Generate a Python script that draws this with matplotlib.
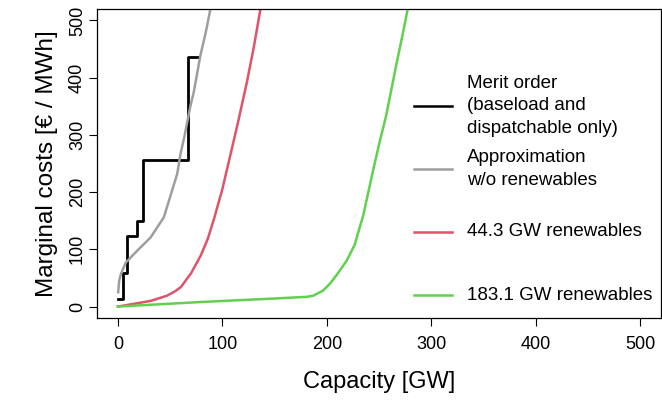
import matplotlib
matplotlib.use("Agg")
import matplotlib.pyplot as plt

plt.rcParams['font.family'] = ['Liberation Sans', 'DejaVu Sans']

# merit order (step function)
merit_cap = [0, 4.5, 8.6, 18.7, 23.7, 67.0, 76.5]
merit_cost = [14, 58, 124, 149, 256, 436, 436]

# approximation without renewables
approx_cap = [0.3, 1.2, 2.9, 7.6, 18.7, 31.4, 44, 56.8, 60, 64, 69.5, 72.7, 79, 84, 88.6]
approx_cost = [25, 45, 57, 77, 98, 121, 156, 232, 267, 300, 351, 375, 439, 478, 520]

# 44.3 GW renewables
red_cap = [0, 16, 31.7, 47, 55, 60.3, 70, 79.3, 86, 92, 100, 107.6, 115, 123.5, 130, 136.5]
red_cost = [0, 5, 10, 19, 27, 34, 58, 89, 118, 153, 205, 264, 322, 392, 452, 520]

# 183.1 GW renewables
green_cap = [0, 80, 155, 181, 187, 196.5, 203, 209, 219, 226.7, 235, 244, 250, 256.9, 266.4, 272, 277.5]
green_cost = [0, 8, 14.5, 17, 19, 28, 40, 54, 80, 108, 160, 235, 283, 334, 421, 470, 520]

labels = ["Merit order\n(baseload and\ndispatchable only)",
          "Approximation\nw/o renewables",
          "44.3 GW renewables",
          "183.1 GW renewables"]
colors = ["#000000", "#9E9E9E", "#DF536B", "#61D04F"]

W, H = 662, 405
fig = plt.figure(figsize=(W / 100, H / 100), dpi=100)
ax = fig.add_axes([97 / W, (H - 318) / H, (661 - 97) / W, (318 - 9) / H])

lw = 1.8
ax.plot(merit_cap, merit_cost, drawstyle='steps-post', color=colors[0], lw=2.0)
ax.plot(approx_cap, approx_cost, color=colors[1], lw=lw)
ax.plot(red_cap, red_cost, color=colors[2], lw=lw)
ax.plot(green_cap, green_cost, color=colors[3], lw=lw)

ax.set_xlim(-20, 520)
ax.set_ylim(-20, 520)
ax.set_xticks([0, 100, 200, 300, 400, 500])
ax.set_yticks([0, 100, 200, 300, 400, 500])
ax.tick_params(direction='out', length=6, width=0.8, labelsize=13)
ax.tick_params(axis='x', pad=7)
ax.tick_params(axis='y', pad=2)
for lab in ax.get_yticklabels():
    lab.set_rotation(90)
    lab.set_va('center')
for s in ax.spines.values():
    s.set_linewidth(0.9)
ax.set_xlabel("Capacity [GW]", fontsize=17, labelpad=13)
ax.set_ylabel("Marginal costs [€ / MWh]", fontsize=17.5, labelpad=8)

# legend, drawn by hand like R's legend()
ys = [106, 169, 232, 295]
for lab, c, y in zip(labels, colors, ys):
    fy = 1 - y / H
    fig.add_artist(plt.Line2D([414 / W, 452 / W], [fy, fy], color=c, lw=lw,
                              transform=fig.transFigure))
    fig.text(467 / W, fy, lab, fontsize=13.5, va='center', ha='left',
             linespacing=1.42)

fig.savefig("out.png", dpi=100)
